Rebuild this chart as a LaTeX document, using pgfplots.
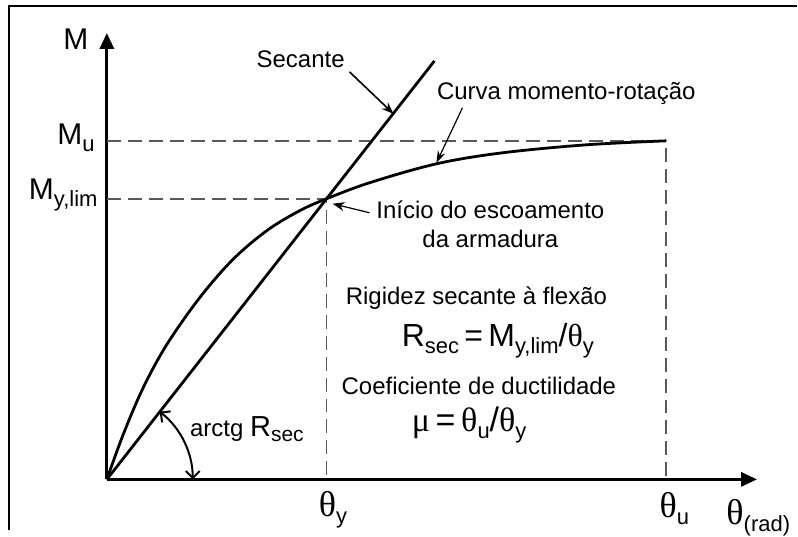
\documentclass[border=0pt]{standalone}
\usepackage{pgfplots}
\pgfplotsset{compat=1.18}
\usetikzlibrary{arrows.meta}
\usepackage{fontspec}
\setmainfont{Liberation Sans}
\newfontfamily\grk{Liberation Serif}
\newcommand\sub[2][9]{\raisebox{-0.4ex}{\fontsize{#1}{#1}\selectfont #2}}
\newcommand\thet{{\grk θ}}
\begin{document}
\begin{tikzpicture}
\begin{axis}[
  x=0.5pt, y=0.5pt,
  xmin=0, xmax=651, ymin=0, ymax=447,
  axis lines=left,
  axis line style={line width=1.6pt, -{Triangle[length=8pt,width=7pt]}},
  xtick=\empty, ytick=\empty,
  clip=false,
  font=\fontsize{12}{14}\selectfont,
]
% bounding box and frame
\path (axis cs:-107,-51) rectangle (axis cs:691,480);
\draw[black, line width=1pt] (axis cs:-98,-51) -- (axis cs:-98,474) -- (axis cs:691,474);
% dashed guides
\addplot[black!65, line width=0.9pt, dash pattern=on 7pt off 3.5pt] coordinates {(0,281) (220,281) (220,0)};
\addplot[black!65, line width=0.9pt, dash pattern=on 7pt off 3.5pt] coordinates {(0,339) (560,339) (560,0)};
% secant
\addplot[black, line width=1.4pt] coordinates {(0,0) (328,419)};
% moment-rotation curve
\addplot[black, line width=1.4pt, smooth, tension=0.55] coordinates {
(0,0) (16,44) (36,91) (60,135) (93,182) (126,220) (160,249) (193,269) (220,281)
(263,297) (330,316) (396,327) (480,335) (560,339)};
% annotation arrows
\draw[line width=0.8pt, -{Stealth[length=6pt,width=4.5pt]}] (axis cs:243,408) -- (axis cs:287,366);
\draw[line width=0.6pt, -{Stealth[length=6pt,width=4pt]}] (axis cs:356,372) -- (axis cs:330,317);
\draw[line width=0.6pt, -{Stealth[length=6pt,width=4.5pt]}] (axis cs:263,267) -- (axis cs:226,276);
\draw[line width=1pt, {Straight Barb[length=3.5pt,width=7pt]}-{Straight Barb[length=3.5pt,width=7pt]}]
  (axis cs:0,0) ++(52:43pt) arc[start angle=52, end angle=0, radius=43pt];
% texts
\node[anchor=base] at (axis cs:194,412) {Secante};
\node[anchor=base] at (axis cs:460,380) {Curva momento-rotação};
\node[anchor=base] at (axis cs:384,261) {Início do escoamento};
\node[anchor=base] at (axis cs:384,232) {da armadura};
\node[anchor=base] at (axis cs:370,175) {Rigidez secante à flexão};
\node[anchor=base west, inner sep=0pt] at (axis cs:295,133) {\fontsize{16}{16}\selectfont R\sub[11]{sec}\,=\,M\sub[11]{y,lim}/\thet\sub[11]{y}};
\node[anchor=base] at (axis cs:372.5,85) {Coeficiente de ductilidade};
\node[anchor=base west, inner sep=0pt] at (axis cs:305,48) {\fontsize{17}{17}\selectfont {\grk μ}\,=\,\thet\sub[11]{u}/\thet\sub[11]{y}};
\node[anchor=base west, inner sep=0pt] at (axis cs:83,43) {arctg {\fontsize{14.5}{14}\selectfont R}\sub[10.5]{sec}};
% axis labels
\node[anchor=base, inner sep=0pt] at (axis cs:-31,430) {\fontsize{15}{15}\selectfont M};
\node[anchor=base east, inner sep=0pt] at (axis cs:-12,335) {\fontsize{15}{15}\selectfont M\sub[11]{u}};
\node[anchor=base east, inner sep=0pt] at (axis cs:-9,280) {\fontsize{15}{15}\selectfont M\sub[11]{y,lim}};
\node[anchor=base west, inner sep=0pt] at (axis cs:212,-37) {\fontsize{18}{18}\selectfont\thet\sub[11]{y}};
\node[anchor=base west, inner sep=0pt] at (axis cs:553,-38) {\fontsize{18}{18}\selectfont\thet\sub[11]{u}};
\node[anchor=base west, inner sep=0pt] at (axis cs:620,-45) {\fontsize{18}{18}\selectfont\thet\sub[11]{(rad)}};
\end{axis}
\end{tikzpicture}
\end{document}
